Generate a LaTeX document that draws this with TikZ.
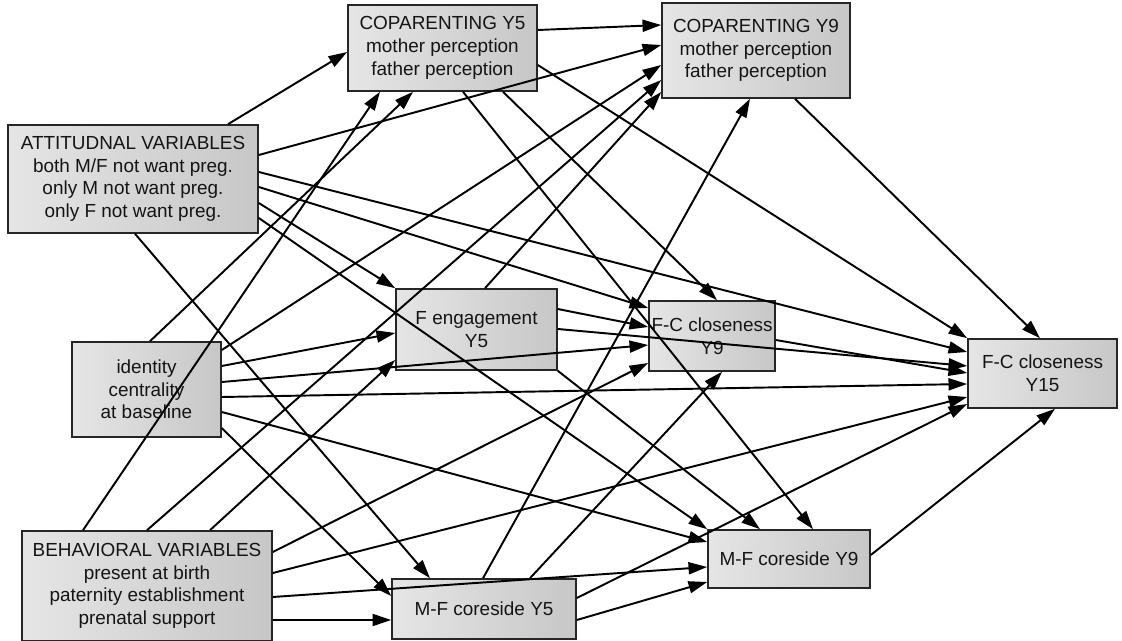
\documentclass[tikz,border=0pt]{standalone}
\usepackage{fontspec}
\setmainfont{Liberation Sans}
\usetikzlibrary{arrows.meta,shadings}
\begin{document}
\begin{tikzpicture}[x=0.75pt,y=-0.75pt,
  box/.style={draw=black!85,line width=1.2pt,left color=black!10,right color=black!22,
    text=black!92,align=center,inner sep=0pt,font=\fontsize{14.2}{17}\selectfont},
  link/.style={line width=1.45pt,black,-{Triangle[length=14pt,width=9pt]}}]
\useasboundingbox (0,0) rectangle (1122,641);
% nodes
\node[box,minimum width=189*0.75pt,minimum height=86*0.75pt] (cp5) at (442.5,48) {COPARENTING Y5\\mother perception\\father perception};
\node[box,minimum width=188*0.75pt,minimum height=95*0.75pt] (cp9) at (756,50.5) {COPARENTING Y9\\mother perception\\father perception};
\node[box,minimum width=250*0.75pt,minimum height=108*0.75pt] (att) at (133,179) {ATTITUDNAL VARIABLES\\both M/F not want preg.\\only M not want preg.\\only F not want preg.};
\node[box,minimum width=149*0.75pt,minimum height=95*0.75pt] (id) at (146.5,389.5) {identity\\centrality\\at baseline};
\node[box,minimum width=250*0.75pt,minimum height=110*0.75pt] (beh) at (147,586) {BEHAVIORAL VARIABLES\\present at birth\\paternity establishment\\prenatal support};
\node[box,minimum width=161*0.75pt,minimum height=81*0.75pt] (fe5) at (476.5,329.5) {F engagement\\Y5};
\node[box,minimum width=126*0.75pt,minimum height=70*0.75pt] (fc9) at (712,336) {F-C closeness\\Y9};
\node[box,minimum width=149*0.75pt,minimum height=69*0.75pt] (fc15) at (1042.5,373.5) {F-C closeness\\Y15};
\node[box,minimum width=162*0.75pt,minimum height=58*0.75pt] (mf9) at (789,559) {M-F coreside Y9};
\node[box,minimum width=184*0.75pt,minimum height=60*0.75pt] (mf5) at (484,609) {M-F coreside Y5};
% attitudinal
\draw[link] (228,0 |- att.north) -- (cp5.west |- 0,52);
\draw[link] (att.east |- 0,155) -- (cp9.west |- 0,45);
\draw[link] (att.east |- 0,172) -- (fc15.west |- 0,352);
\draw[link] (att.east |- 0,187) -- (fc9.west |- 0,308);
\draw[link] (att.east |- 0,203) -- (fe5.north west);
\draw[link] (att.east |- 0,218) -- (mf9.north west);
\draw[link] (135,0 |- att.south) -- (430,0 |- mf5.north);
% identity
\draw[link] (150,0 |- id.north) -- (413,0 |- cp5.south);
\draw[link] (id.east |- 0,350) -- (cp9.west |- 0,65);
\draw[link] (id.east |- 0,366) -- (fe5.west |- 0,333);
\draw[link] (id.east |- 0,382) -- (fc9.west |- 0,345);
\draw[link] (id.east |- 0,397) -- (fc15.west |- 0,384);
\draw[link] (id.east |- 0,412) -- (mf9.west |- 0,542);
\draw[link] (id.east |- 0,428) -- (mf5.west |- 0,596);
% behavioral
\draw[link] (83,0 |- beh.north) -- (380,0 |- cp5.south);
\draw[link] (147,0 |- beh.north) -- (cp9.west |- 0,80);
\draw[link] (210,0 |- beh.north) -- (fe5.west |- 0,360);
\draw[link] (beh.east |- 0,552) -- (fc9.west |- 0,363);
\draw[link] (beh.east |- 0,573) -- (fc15.west |- 0,397);
\draw[link] (beh.east |- 0,597) -- (mf9.west |- 0,567);
\draw[link] (beh.east |- 0,620) -- (mf5.west |- 0,620);
% coparenting Y5
\draw[link] (cp5.east |- 0,30) -- (cp9.west |- 0,25);
\draw[link] (cp5.east |- 0,65) -- (fc15.north west);
\draw[link] (463,0 |- cp5.south) -- (813,0 |- mf9.north);
\draw[link] (503,0 |- cp5.south) -- (717,0 |- fc9.north);
% F engagement Y5
\draw[link] (485,0 |- fe5.north) -- (cp9.west |- 0,92);
\draw[link] (fe5.east |- 0,309) -- (fc9.west |- 0,327);
\draw[link] (fe5.east |- 0,329) -- (fc15.west |- 0,366);
\draw[link] (fe5.south east) -- (760,0 |- mf9.north);
% M-F coreside Y5
\draw[link] (483,0 |- mf5.north) -- (750,0 |- cp9.south);
\draw[link] (530,0 |- mf5.north) -- (722,0 |- fc9.south);
\draw[link] (mf5.east |- 0,598) -- (fc15.west |- 0,404);
\draw[link] (mf5.east |- 0,620) -- (mf9.west |- 0,582);
% Y9
\draw[link] (795,0 |- cp9.south) -- (1040,0 |- fc15.north);
\draw[link] (fc9.east |- 0,340) -- (fc15.west |- 0,373);
\draw[link] (mf9.east |- 0,555) -- (1055,0 |- fc15.south);
\end{tikzpicture}
\end{document}
